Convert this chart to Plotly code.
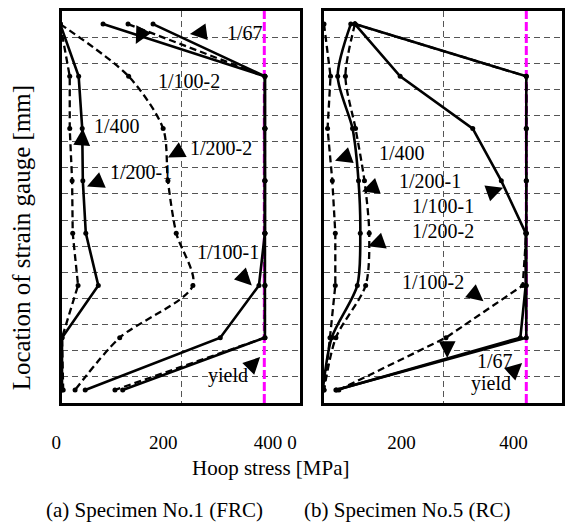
import plotly.graph_objects as go

# ---------------- data ----------------
gauge_y = [14.5, 12.5, 10.5, 8.5, 6.5, 4.5, 2.5, 0.5]
yield_stress = 340

series_names = ["1/400", "1/200-1", "1/200-2", "1/100-1", "1/100-2", "1/67"]
series_dash = ["dash", "solid", "dash", "solid", "dash", "solid"]

# (a) Specimen No.1 (FRC)
frc_1_400 = [-3, 13, 13, 17, 18, 27, 0, 2]
frc_1_200_1 = [-3, 28, 34, 35, 40, 61, 0, 0]
frc_1_200_2 = [-3, 112, 170, 178, 192, 220, 97, 22]
frc_1_100_1 = [69, 341, 341, 341, 341, 331, 266, 39]
frc_1_100_2 = [111, 341, 341, 341, 341, 341, 341, 89]
frc_1_67 = [153, 341, 341, 341, 341, 341, 341, 102]
frc_shape = ["linear", "linear", "spline", "linear", "linear", "linear"]

# (b) Specimen No.5 (RC)
rc_1_400 = [0, 11, 6, 14, 19, 19, 10, 0]
rc_1_200_1 = [45, 23, 48, 58, 61, 56, 13, -2]
rc_1_200_2 = [52, 36, 53, 68, 76, 70, 20, 0]
rc_1_100_1 = [52, 128, 250, 298, 339, 339, 330, 21]
rc_1_100_2 = [52, 340, 340, 340, 340, 334, 205, 25]
rc_1_67 = [52, 340, 340, 340, 340, 340, 340, 20]
rc_shape = ["linear", "spline", "spline", "linear", "linear", "linear"]

x_ticks = [0, 200, 400]
x_title = "Hoop stress [MPa]"
y_title = "Location of strain gauge [mm]"
captions = ["(a) Specimen No.1 (FRC)", "(b) Specimen No.5 (RC)"]

FONT = "Liberation Serif, Times New Roman, serif"
NB = "\u00a0"

fig = go.Figure()

def add_panel(xa, ya, data, shapes):
    fig.add_trace(go.Scatter(
        x=[yield_stress, yield_stress], y=[0, 15], mode="lines",
        line=dict(color="#FF00FF", width=3, dash="9px,3px"),
        xaxis=xa, yaxis=ya, showlegend=False, hoverinfo="skip"))
    for name, xs, dash, shp in zip(series_names, data, series_dash, shapes):
        fig.add_trace(go.Scatter(
            x=xs, y=gauge_y, mode="lines+markers", name=name,
            line=dict(color="black", width=2.6 if dash == "solid" else 2.3,
                      dash="solid" if dash == "solid" else "7px,4px",
                      shape=shp, smoothing=0.8),
            marker=dict(color="black", size=5),
            xaxis=xa, yaxis=ya, showlegend=False, cliponaxis=True))

add_panel("x", "y", [frc_1_400, frc_1_200_1, frc_1_200_2, frc_1_100_1, frc_1_100_2, frc_1_67], frc_shape)
add_panel("x2", "y2", [rc_1_400, rc_1_200_1, rc_1_200_2, rc_1_100_1, rc_1_100_2, rc_1_67], rc_shape)

grid = dict(showgrid=True, gridcolor="#555555", gridwidth=1, griddash="6px,4px",
            showline=True, linecolor="black", linewidth=3, mirror=True,
            zeroline=False, ticks="", automargin=False)
xcommon = dict(range=[0, 400], tickvals=x_ticks,
               tickfont=dict(family=FONT, size=19, color="black"),
               ticklabelstandoff=20, ticklabelshift=-32, ticklabeloverflow="allow", **grid)
ycommon = dict(range=[0, 15], tick0=0, dtick=1, showticklabels=False, **grid)

fig.update_layout(
    width=577, height=525,
    margin=dict(l=62, r=15, t=11, b=122, autoexpand=False),
    paper_bgcolor="white", plot_bgcolor="white",
    font=dict(family=FONT, color="black"),
    xaxis=dict(domain=[0, 0.476], anchor="y",
               ticktext=[NB * 11 + "0", NB * 6 + "200", "400"], **xcommon),
    xaxis2=dict(domain=[0.524, 1], anchor="y2",
                ticktext=["0", "200" + NB * 4, "400" + NB * 7], **xcommon),
    yaxis=dict(domain=[0, 1], anchor="x", **ycommon),
    yaxis2=dict(domain=[0, 1], anchor="x2", **ycommon),
)

ann = []
# labels: (text, x, y, panel)
labels = [
    ("1/67", 307, 14.16, 1), ("1/100-2", 213, 12.33, 1), ("1/400", 92, 10.6, 1),
    ("1/200-1", 133, 8.85, 1), ("1/200-2", 267, 9.77, 1), ("1/100-1", 279, 5.76, 1),
    ("yield", 279, 1.07, 1),
    ("1/400", 131, 9.58, 2), ("1/200-1", 178, 8.5, 2), ("1/100-1", 200, 7.55, 2),
    ("1/200-2", 200, 6.57, 2), ("1/100-2", 183, 4.62, 2), ("1/67", 288, 1.6, 2),
    ("yield", 280, 0.75, 2),
]
for t, x, y, p in labels:
    ann.append(dict(text=t, x=x, y=y, xref="x" if p == 1 else "x2", yref="y" if p == 1 else "y2",
                    showarrow=False, font=dict(family=FONT, size=20, color="black"),
                    xanchor="center", yanchor="middle"))
# arrows: (tip x, tip y, ax, ay, panel)
arrows = [
    (215, 14.12, 15, -2, 1), (124, 13.74, 7, -13, 1), (35, 10.5, -1, 15, 1),
    (42, 8.28, 14, -6, 1), (178, 9.39, 13, -7, 1), (319, 4.5, -10, -10, 1),
    (333, 1.76, -10, 10, 1),
    (18.5, 9.27, 14, -5, 2), (64, 8.09, 14, -5, 2), (301, 8.24, -14, 5, 2),
    (74, 6.0, 14, -5, 2), (268, 3.89, -11, -9, 2), (207, 1.72, 0, -14, 2),
    (333, 1.53, -11, 10, 2),
]
for x, y, ax_, ay_, p in arrows:
    ann.append(dict(text="", x=x, y=y, xref="x" if p == 1 else "x2", yref="y" if p == 1 else "y2",
                    showarrow=True, arrowhead=2, arrowsize=2.4, arrowwidth=1.4,
                    arrowcolor="black", ax=ax_, ay=ay_, standoff=0))
ann.append(dict(text=x_title, x=0.418, y=-0.166, xref="paper", yref="paper", showarrow=False,
                font=dict(family=FONT, size=21, color="black"), xanchor="center", yanchor="middle"))
ann.append(dict(text=captions[0], x=0.184, y=-0.273, xref="paper", yref="paper", showarrow=False,
                font=dict(family=FONT, size=21, color="black"), xanchor="center", yanchor="middle"))
ann.append(dict(text=captions[1], x=0.69, y=-0.273, xref="paper", yref="paper", showarrow=False,
                font=dict(family=FONT, size=21, color="black"), xanchor="center", yanchor="middle"))
ann.append(dict(text=y_title, x=-0.082, y=0.42, xref="paper", yref="paper", showarrow=False,
                textangle=-90, font=dict(family=FONT, size=25, color="black"),
                xanchor="center", yanchor="middle"))
fig.update_layout(annotations=ann)

fig.write_html("out.html")
